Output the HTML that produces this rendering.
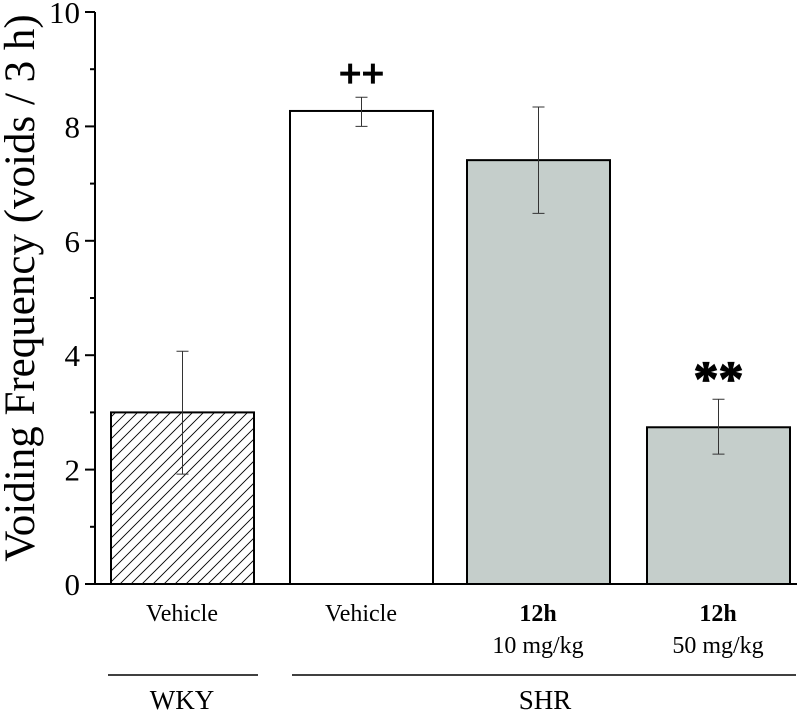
<!DOCTYPE html>
<html><head><meta charset="utf-8"><style>
body{margin:0;background:#fff;}
svg text{font-family:"Liberation Serif",serif;}
</style></head><body>
<svg width="808" height="717" viewBox="0 0 808 717">
<defs>
<pattern id="hatch" patternUnits="userSpaceOnUse" width="11" height="11">
<path d="M-2,13 L13,-2 M-7,7 L7,-7 M4,18 L18,4" stroke="#000" stroke-width="0.9"/>
</pattern>
</defs>
<g id="plot"></g>
</svg>
<script>
const categories = ["WKY Vehicle", "SHR Vehicle", "12h 10 mg/kg", "12h 50 mg/kg"];
const values = [3.0, 8.27, 7.41, 2.74];
const errUpper = [4.07, 8.51, 8.34, 3.23];
const errLower = [1.92, 8.0, 6.48, 2.27];
const majorTicks = [0, 2, 4, 6, 8, 10];
const minorTicks = [1, 3, 5, 7, 9];
const annotations = ["", "++", "", "**"];

const NS = "http://www.w3.org/2000/svg";
const g = document.getElementById("plot");
const y = v => 584 - v * 57.2;
const barLeft = [111, 290, 467, 647];
const barW = 143;
function mk(tag, attrs, parent) {
  const e = document.createElementNS(NS, tag);
  for (const k in attrs) e.setAttribute(k, attrs[k]);
  (parent || g).appendChild(e);
  return e;
}
const fills = ["url(#hatch)", "#fff", "#c5cecb", "#c5cecb"];
categories.forEach((c, i) => {
  const r = mk("rect", {x: barLeft[i], y: y(values[i]), width: barW, height: y(0) - y(values[i]), fill: fills[i], stroke: "#000", "stroke-width": 2});
  
  
  const cx = barLeft[i] + barW / 2;
  const eb = mk("path", {d: `M${cx},${y(errUpper[i])} V${y(errLower[i])} M${cx-6},${y(errUpper[i])} H${cx+6} M${cx-6},${y(errLower[i])} H${cx+6}`, stroke: "#333", "stroke-width": 1, fill: "none"});
  
  
  if (annotations[i]) {
    const isStar = annotations[i] === "**";
    const t = mk("text", {x: cx, y: y(errUpper[i]) - (isStar ? 4 : 10), "text-anchor": "middle", "font-size": isStar ? 50 : 40, "font-weight": "bold", stroke: "#000", "stroke-width": 1.2, "font-family": "Liberation Sans, sans-serif"});
    t.textContent = annotations[i];
    
    
  }
});
const ax = mk("path", {d: `M95,${y(10)} V${y(0)} H797`, stroke: "#000", "stroke-width": 2, fill: "none"});


majorTicks.forEach(v => {
  const tk = mk("line", {x1: 85, x2: 95, y1: y(v), y2: y(v), stroke: "#000", "stroke-width": 2});
  
  
  const t = mk("text", {x: 80, y: y(v) + 11, "text-anchor": "end", "font-size": 31});
  t.textContent = v;
  
  
});
minorTicks.forEach(v => {
  const tk = mk("line", {x1: 90, x2: 95, y1: y(v), y2: y(v), stroke: "#000", "stroke-width": 2});
  
  
});
</script>
<svg width="808" height="717" style="position:absolute;left:0;top:0">
<text x="34" y="288" transform="rotate(-90 34 288)" text-anchor="middle" font-size="43">Voiding Frequency (voids / 3 h)</text>
<text x="182" y="621" text-anchor="middle" font-size="24">Vehicle</text>
<text x="361" y="621" text-anchor="middle" font-size="24">Vehicle</text>
<text x="538" y="621" text-anchor="middle" font-size="24" font-weight="bold">12h</text>
<text x="538" y="653" text-anchor="middle" font-size="24">10 mg/kg</text>
<text x="718" y="621" text-anchor="middle" font-size="24" font-weight="bold">12h</text>
<text x="718" y="653" text-anchor="middle" font-size="24">50 mg/kg</text>
<line x1="108" x2="258" y1="675" y2="675" stroke="#000" stroke-width="1.5"/>
<line x1="292" x2="796" y1="675" y2="675" stroke="#000" stroke-width="1.5"/>
<text x="182" y="709" text-anchor="middle" font-size="27">WKY</text>
<text x="545" y="709" text-anchor="middle" font-size="27">SHR</text>
</svg>
</body></html>
